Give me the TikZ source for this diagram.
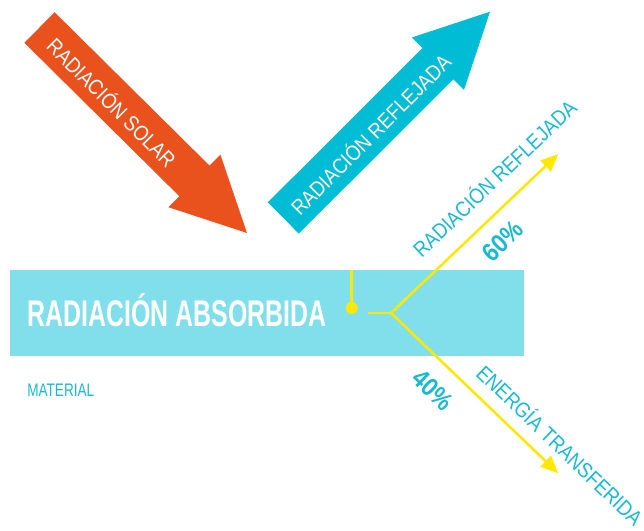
\documentclass[tikz,border=0pt]{standalone}
\usepackage{fontspec}
\setmainfont{Liberation Sans}
\newfontfamily\arrowfont[FakeStretch=0.87]{Liberation Sans}
\newfontfamily\titlefont[FakeStretch=0.67]{Liberation Sans}
\newfontfamily\smallfont[FakeStretch=0.75]{Liberation Sans}
\usetikzlibrary{arrows.meta}
\definecolor{solar}{RGB}{233,81,29}
\definecolor{reflect}{RGB}{0,188,212}
\definecolor{absorb}{RGB}{128,223,234}
\definecolor{labelcyan}{RGB}{26,185,210}
\definecolor{rayyellow}{RGB}{255,232,0}

\begin{document}
\begin{tikzpicture}[x=0.025cm,y=-0.025cm,line join=miter,
  arrowtext/.style={text=white,inner sep=0pt,text height=10.9pt,text depth=0pt,
    font=\arrowfont\fontsize{15.2}{17}\selectfont},
  raylabel/.style={text=labelcyan,inner sep=0pt,text height=10.9pt,text depth=0pt,
    font=\arrowfont\fontsize{15.2}{17}\selectfont},
  pct/.style={text=labelcyan,inner sep=0pt,text height=12.9pt,text depth=0pt,
    font=\arrowfont\bfseries\fontsize{18.5}{20}\selectfont},
  rayline/.style={draw=rayyellow,line width=1.8pt}]
  \useasboundingbox (0,0) rectangle (644,531);

  % incoming and reflected block arrows
  \fill[solar] (24.4,42.8) -- (54.6,12.2) -- (209.5,165.6) -- (220.4,154.6)
    -- (247,233) -- (168.4,207.2) -- (179.3,196.2) -- cycle;
  \node[arrowtext,rotate=-45] (solarText) at (111.5,103) {RADIACIÓN SOLAR};

  \fill[reflect] (267.8,202.4) -- (422.4,48.1) -- (411.8,37.5) -- (490,11.7)
    -- (464,89.9) -- (453.4,79.3) -- (298.8,233.6) -- cycle;
  \node[arrowtext,rotate=45] (reflectText) at (371,135) {RADIACIÓN REFLEJADA};

  % material layer
  \fill[absorb] (10,270) rectangle (524,356);
  \node[anchor=base west,inner sep=0pt,text=white,
    font=\titlefont\bfseries\fontsize{26.4}{30}\selectfont] (absorbed) at (27.7,326.7) {RADIACIÓN ABSORBIDA};
  \node[anchor=base west,inner sep=0pt,text=labelcyan,
    font=\smallfont\fontsize{12.9}{15}\selectfont] (material) at (27,396.7) {MATERIAL};

  % split of the absorbed energy
  \coordinate (wallTop) at (351.7,270);
  \coordinate (dot) at (351.7,308);
  \coordinate (stub) at (368,313);
  \coordinate (split) at (391,313);
  \coordinate (tipUp) at (558.3,154);
  \coordinate (tipDown) at (558.3,473.3);

  \draw[rayline] (wallTop) -- (dot);
  \fill[rayyellow] (dot) circle (0.15cm);
  \draw[rayline] (stub) -- (split);
  \draw[rayline,-{Triangle[length=0.44cm,width=0.37cm]}] (split) -- (tipUp)
    node[raylabel,sloped,pos=.727,above=0.42cm] (lblUp) {RADIACIÓN REFLEJADA}
    node[pct,sloped,pos=.566,below=0.36cm] (pctUp) {60\%};
  \draw[rayline,-{Triangle[length=0.44cm,width=0.37cm]}] (split) -- (tipDown)
    node[raylabel,sloped,pos=.922,above=0.3cm] (lblDown) {ENERGÍA TRANSFERIDA}
    node[pct,sloped,pos=.36,below=0.4cm] (pctDown) {40\%};
\end{tikzpicture}
\end{document}
